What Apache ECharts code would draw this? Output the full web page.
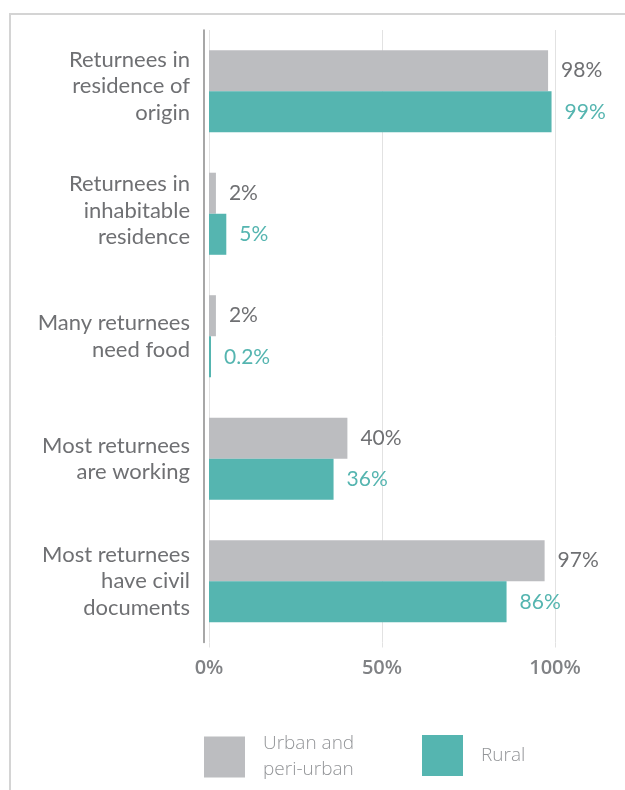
<!DOCTYPE html>
<html>
<head>
<meta charset="utf-8">
<script src="https://cdn.jsdelivr.net/npm/echarts@6/dist/echarts.min.js"></script>
<style>
  html, body { margin: 0; padding: 0; background: #ffffff; }
  #frame {
    position: absolute; left: 9px; top: 13px; width: 640px; height: 800px;
    border-top: 2px solid #d4d4d4; border-left: 2px solid #d4d4d4;
  }
  #chart { position: absolute; left: 0; top: 0; width: 625px; height: 790px; }
</style>
</head>
<body>
<div id="frame"></div>
<div id="chart"></div>
<script>
// Indicators shown top to bottom
const categories = [
  'Returnees in\nresidence of\norigin',
  'Returnees in\ninhabitable\nresidence',
  'Many returnees\nneed food',
  'Most returnees\nare working',
  'Most returnees\nhave civil\ndocuments'
];
// Share of respondents (%)
const urbanValues = [98, 2, 2, 40, 97];
const ruralValues = [99, 5, 0.2, 36, 86];
const urbanName = 'Urban and\nperi-urban';
const ruralName = 'Rural';
const xTicks = [0, 50, 100];

// Height of an empty spacer line under some category labels (lifts them a little)
const labelLift = [10, 6, 0, 0, 0];

const GRAY = '#bcbdc0';
const TEAL = '#55b5b0';
const TEXT = '#6f7073';

const chart = echarts.init(document.getElementById('chart'), null, { renderer: 'canvas' });

function valueLabel(color) {
  return {
    show: true,
    position: 'right',
    distance: 13,
    color: color,
    fontFamily: 'Lato',
    fontSize: 21,
    formatter: p => p.value + '%'
  };
}

const legendText = {
  fontFamily: 'Open Sans',
  fontWeight: 300,
  fontSize: 19,
  lineHeight: 26,
  color: '#939598',
  padding: [0, 0, 0, 13]
};

const spacerRich = {};
labelLift.forEach((h, i) => {
  if (h) spacerRich['s' + i] = { fontSize: 1, lineHeight: h };
});

chart.setOption({
  backgroundColor: 'transparent',
  animation: false,
  grid: { left: 209, right: 70, top: 30, height: 612.5, containLabel: false },
  xAxis: {
    type: 'value',
    min: 0,
    max: 100,
    interval: 50,
    axisLine: { show: false },
    axisTick: { show: true, length: 5, lineStyle: { color: '#e2e2e2' } },
    splitLine: { show: true, lineStyle: { color: '#e2e2e2', width: 1 } },
    axisLabel: {
      margin: 16,
      color: '#808285',
      fontFamily: 'Open Sans',
      fontWeight: 600,
      fontSize: 20,
      formatter: v => (xTicks.indexOf(v) >= 0 ? v + '%' : '')
    }
  },
  yAxis: {
    type: 'category',
    data: categories,
    inverse: true,
    offset: 5,
    axisLine: { show: true, onZero: false, lineStyle: { color: '#8a8a8a', width: 1.5 } },
    axisTick: { show: false },
    axisLabel: {
      margin: 14,
      color: TEXT,
      fontFamily: 'Lato',
      fontSize: 22,
      lineHeight: 26.5,
      align: 'right',
      formatter: (v, i) => (labelLift[i] ? v + '\n{s' + i + '| }' : v),
      rich: spacerRich
    }
  },
  legend: [
    {
      left: 204, top: 731, padding: 0,
      itemWidth: 41, itemHeight: 41,
      icon: 'rect',
      selectedMode: false,
      data: [urbanName],
      textStyle: legendText
    },
    {
      left: 422, top: 735, padding: 0,
      itemWidth: 41, itemHeight: 41,
      icon: 'rect',
      selectedMode: false,
      data: [ruralName],
      textStyle: legendText
    }
  ],
  series: [
    {
      name: urbanName,
      type: 'bar',
      data: urbanValues,
      barGap: '0%',
      barCategoryGap: '33%',
      itemStyle: { color: GRAY },
      label: valueLabel(TEXT)
    },
    {
      name: ruralName,
      type: 'bar',
      data: ruralValues,
      barMinHeight: 2,
      itemStyle: { color: TEAL },
      label: valueLabel(TEAL)
    }
  ]
});
</script>
</body>
</html>
